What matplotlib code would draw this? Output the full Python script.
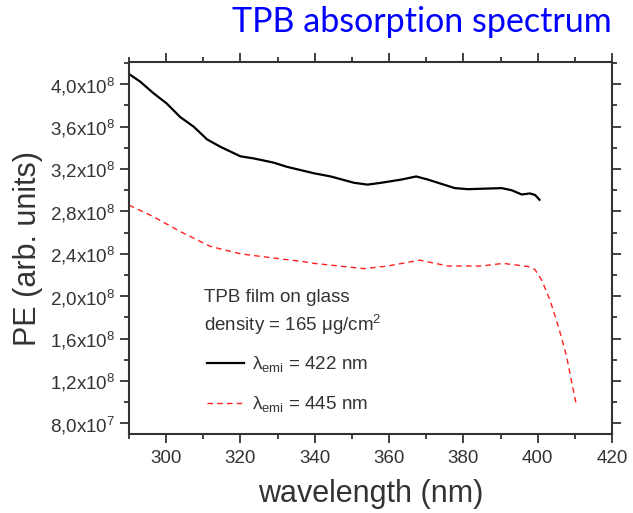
import matplotlib
matplotlib.use("Agg")
import matplotlib.pyplot as plt
from matplotlib.ticker import MultipleLocator

plt.rcParams['font.family'] = ['Liberation Sans', 'DejaVu Sans']
plt.rcParams['mathtext.fontset'] = 'custom'
plt.rcParams['mathtext.rm'] = 'Liberation Sans'
plt.rcParams['mathtext.it'] = 'Liberation Sans:italic'
plt.rcParams['mathtext.sf'] = 'Liberation Sans'

# Data
wl_422 = [290, 293, 296.6, 300.1, 303.8, 307.4, 311, 314.6, 320, 323.6, 329, 332.6,
          336.2, 339.8, 344.3, 350.6, 354.2, 357.8, 363.2, 367.3, 370.5, 375, 377.7,
          381.3, 390.3, 393, 395.7, 397.9, 399.3, 400.5]
pe_422 = [4.097e8, 4.025e8, 3.915e8, 3.82e8, 3.69e8, 3.60e8, 3.48e8, 3.41e8, 3.32e8, 3.30e8,
          3.26e8, 3.22e8, 3.19e8, 3.16e8, 3.13e8, 3.07e8, 3.053e8, 3.07e8, 3.10e8, 3.13e8,
          3.10e8, 3.05e8, 3.02e8, 3.01e8, 3.02e8, 3.00e8, 2.96e8, 2.97e8, 2.955e8, 2.91e8]

wl_445 = [290, 296.6, 303.8, 311.9, 320, 329, 336.2, 339.8, 345.2, 353.3, 359.6, 368.2,
          375.9, 384.9, 390.7, 397.5, 399.3, 401.1, 403.3, 405.6, 407.8, 409.2, 410.5]
pe_445 = [2.86e8, 2.75e8, 2.61e8, 2.47e8, 2.40e8, 2.36e8, 2.33e8, 2.31e8, 2.29e8, 2.26e8,
          2.285e8, 2.34e8, 2.285e8, 2.285e8, 2.31e8, 2.28e8, 2.25e8, 2.15e8, 1.965e8, 1.71e8,
          1.43e8, 1.18e8, 0.96e8]

x_ticks = [300, 320, 340, 360, 380, 400, 420]
y_ticks = [0.8e8, 1.2e8, 1.6e8, 2.0e8, 2.4e8, 2.8e8, 3.2e8, 3.6e8, 4.0e8]
y_tick_labels = ['8,0x10$^{7}$', '1,2x10$^{8}$', '1,6x10$^{8}$', '2,0x10$^{8}$', '2,4x10$^{8}$',
                 '2,8x10$^{8}$', '3,2x10$^{8}$', '3,6x10$^{8}$', '4,0x10$^{8}$']

title_text = 'TPB absorption spectrum'
legend_title = ['TPB film on glass', 'density = 165 \u03bcg/cm$^{2}$']
series_labels = ['\u03bb$_{\\mathregular{emi}}$ = 422 nm', '\u03bb$_{\\mathregular{emi}}$ = 445 nm']

fig = plt.figure(figsize=(6.33, 5.13), dpi=100)
ax = fig.add_axes([129/633, 79/513, 483/633, 372/513])

ax.plot(wl_422, pe_422, color='black', lw=1.6, label=series_labels[0])
ax.plot(wl_445, pe_445, color='#ff2020', lw=1.0, ls=(0, (4, 3)), label=series_labels[1])

ax.set_xlim(290, 420)
ax.set_ylim(0.70e8, 4.21e8)
ax.set_xticks(x_ticks)
ax.xaxis.set_minor_locator(MultipleLocator(10))
ax.set_yticks(y_ticks)
ax.set_yticklabels(y_tick_labels)
ax.yaxis.set_minor_locator(MultipleLocator(0.2e8))

ax.tick_params(which='both', direction='out', top=True, right=True, color='#333333', width=1.3)
ax.tick_params(which='major', length=6.5, labelsize=13.5, labelcolor='#333333')
ax.tick_params(which='minor', length=3.5)
ax.tick_params(axis='x', which='major', pad=5)
for s in ax.spines.values():
    s.set_linewidth(1.5)
    s.set_color('#333333')

ax.set_xlabel('wavelength (nm)', fontsize=22, color='#333333', labelpad=9)
ax.set_ylabel('PE (arb. units)', fontsize=22, color='#333333', labelpad=5)

fig.text(612/633, 1 - 22/513, title_text, color='#0000ff', fontsize=24.5,
         family=['Lato', 'DejaVu Sans'], ha='right', va='center')

fig.text(204/633, 1 - 298/513, legend_title[0], fontsize=13.5,
         color='#333333', va='center')
fig.text(204/633, 1 - 325/513, legend_title[1], fontsize=13.5,
         color='#333333', va='center')

leg = ax.legend(loc='upper left', bbox_to_anchor=(199/633, 1 - 347/513),
                bbox_transform=fig.transFigure, frameon=False, fontsize=13.5,
                handlelength=2.0, handletextpad=0.4, labelspacing=1.05, borderaxespad=0)
for t in leg.get_texts():
    t.set_color('#333333')

fig.savefig('out.png', dpi=100)
